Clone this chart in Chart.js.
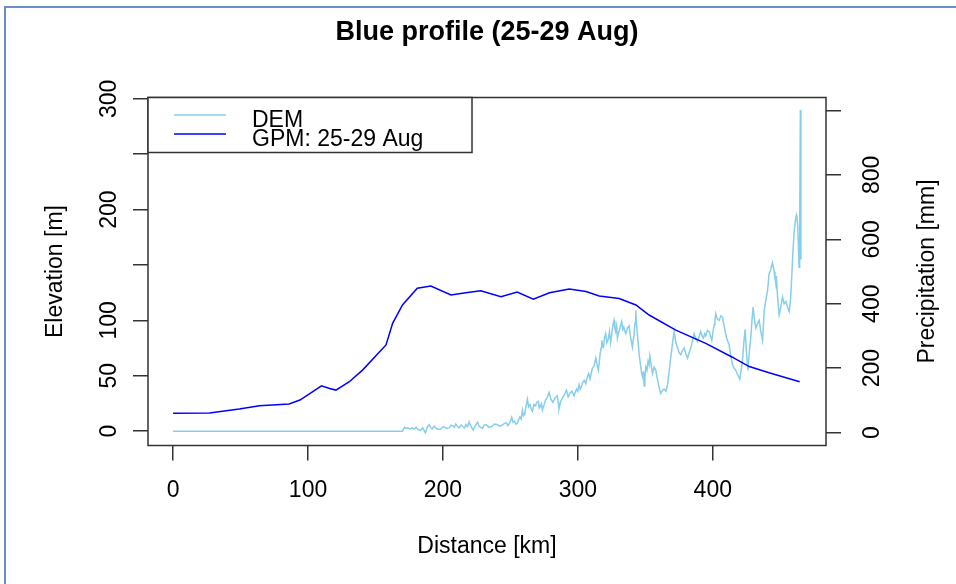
<!DOCTYPE html>
<html>
<head>
<meta charset="utf-8">
<title>Blue profile (25-29 Aug)</title>
<script src="https://cdn.jsdelivr.net/npm/chart.js@4/dist/chart.umd.min.js"></script>
<style>
  html, body { margin: 0; padding: 0; background: #fff; }
  #wrap { position: relative; width: 956px; height: 584px; }
  #frame {
    position: absolute; left: 4px; top: 6px; right: 0; bottom: 0;
    border-top: 2px solid #6d8fc9; border-left: 2px solid #6d8fc9;
    pointer-events: none;
  }
</style>
</head>
<body>
<div id="wrap">
  <canvas id="chart" width="956" height="584"></canvas>
  <div id="frame"></div>
</div>
<script>
// DEM elevation along the profile: [distance km, elevation m]
const demProfile = [
  [0, 0], [170, 0], [171.4, 3.5], [173, 2.5], [174, 3], [175.5, 2], [177, 3], [178.5, 2],
  [180, 3.5], [181.5, 1.5], [183.5, 1], [185, 3], [187, -1.5], [188.5, 4], [189.8, 6],
  [191, 3], [192, 2], [193.5, 4.5], [194.7, 3], [196, 2], [198, 1.5], [199.5, 3.5],
  [201, 4], [202.5, 2.5], [204.6, 3], [206, 5.5], [207, 5], [208.5, 3.5], [209.5, 6.5],
  [211, 4], [212, 3], [213.5, 5.5], [214.5, 4.5], [216, 3], [217, 6], [218.3, 4],
  [219.4, 8.5], [220.5, 5], [222.4, 1], [224, 5], [225.6, 8], [227, 4], [229.3, 2.5],
  [230.5, 5.5], [232, 6], [234, 3.5], [236.7, 4.5], [238, 6.5], [240, 6], [242, 4.5],
  [244, 5.5], [245.5, 7], [247, 7.5], [248, 5], [249, 6.5], [250, 9], [251, 12.5],
  [252, 8], [253, 9], [254, 6.5], [255.2, 7], [256, 10], [257, 13], [258, 11],
  [258.9, 19], [259.7, 14], [260.5, 15], [261.5, 22], [262.6, 29], [263.5, 22],
  [264.5, 24], [265.4, 20], [266.3, 18], [267.4, 24], [268.5, 23], [269.6, 26],
  [270.8, 27], [271.4, 21], [272, 22], [273, 25], [273.7, 19], [275, 24], [276, 28],
  [277.4, 31], [278.7, 35], [280, 29], [281.6, 26], [283, 30], [284.8, 32], [285.4, 26],
  [286, 20], [287.3, 27], [288.5, 30], [290, 33], [291.6, 37], [292.8, 31], [294, 34],
  [295.6, 36], [297.2, 32], [298, 35], [299, 38], [300, 36], [300.9, 42], [301.7, 38],
  [302.5, 40], [303.6, 44], [304.7, 46], [305.8, 43], [307, 49], [308, 52], [309, 47],
  [310, 53], [310.8, 57], [312, 59], [313.3, 66], [314.2, 60], [315.2, 55], [316, 64],
  [316.5, 70], [317.2, 75], [317.7, 82], [318.3, 77], [319, 76], [319.8, 85], [320.6, 88],
  [321.5, 80], [322.5, 83], [323.4, 90], [324.3, 80], [325, 86], [325.5, 92], [326.2, 97],
  [326.8, 100], [327.4, 93], [328, 90], [328.7, 95], [329.3, 84], [330.2, 89], [331, 92],
  [331.7, 96], [332.5, 99], [333.2, 92], [334, 94], [334.8, 90], [335.5, 88], [336.7, 93],
  [338, 95], [339, 85], [340.4, 76], [341.5, 86], [342.4, 98], [342.9, 109], [343.5, 96],
  [344.1, 88], [345.4, 70], [346.6, 58], [347.3, 52], [348, 49], [348.6, 54], [349.1, 41],
  [349.7, 50], [350.4, 58], [351.2, 55], [352, 63], [352.7, 60], [353.3, 68], [354.3, 60],
  [355.3, 52], [356.5, 58], [357.8, 55], [358.6, 49], [359.5, 44], [360.5, 38], [361.5, 34],
  [362.7, 37], [364, 38], [365.3, 36], [366.5, 42], [367.7, 55], [368.9, 67], [370.2, 80],
  [371.4, 90], [372.6, 80], [373.9, 75], [375, 71], [376.3, 69], [377.5, 73], [378.8, 75],
  [380, 70], [381.3, 66], [382.5, 71], [383.7, 75], [385, 82], [386.2, 88], [387.4, 84],
  [388.7, 81], [390, 86], [391.1, 90], [392, 86], [393, 84], [394, 88], [394.8, 86],
  [396, 91], [397.3, 90], [398.3, 86], [399.3, 82], [400.2, 90], [401, 96], [401.6, 100],
  [402.2, 106], [403.4, 101], [404.7, 100], [406, 104], [407.2, 103], [408.4, 95],
  [409.6, 87], [410.8, 82], [412.1, 78], [413.3, 68], [414.6, 60], [415.8, 57], [417, 55],
  [418.5, 51], [420, 47], [421, 55], [422, 64], [423, 80], [424, 92], [425, 70], [426, 55],
  [427.1, 72], [428.2, 85], [429, 100], [429.9, 112], [430.9, 100], [431.9, 93],
  [433.1, 97], [434.4, 100], [435.6, 90], [436.9, 82], [437.5, 95], [438.1, 109],
  [439.3, 118], [440.6, 127], [441.7, 142], [443, 146], [444.2, 152], [444.9, 148],
  [445.5, 144], [446.1, 138], [446.7, 133], [447.1, 140], [448.1, 120], [449.2, 105],
  [450.4, 112], [451.7, 121], [452.9, 115], [454.2, 117], [455.4, 112], [456.6, 108],
  [457.6, 118], [458.5, 139], [459.3, 160], [460.2, 178], [461, 188], [461.9, 195],
  [462.4, 192], [462.9, 185], [463.4, 170], [463.9, 148], [464.4, 186], [464.9, 290],
  [465.3, 155]
];

// GPM precipitation total along the profile: [distance km, precipitation mm]
const gpmProfile = [
  [0, 60], [27, 61], [49, 73], [64, 83], [86, 89], [94, 101], [110, 145], [116, 137],
  [120.7, 132], [130.6, 158], [140.4, 194], [157.8, 272], [162.7, 339], [170, 396],
  [181, 448], [191, 455], [206, 427], [217, 434], [228, 440], [243, 422], [255, 436],
  [267, 414], [279, 434], [293.6, 446], [306, 438], [315.8, 424], [330.6, 416], [343, 396],
  [352.8, 365], [372.6, 318], [394.8, 277], [414.5, 234], [427, 205], [441.7, 186],
  [464.4, 158]
];

// axis ticks and the labels printed next to them
const distTicks = [0, 100, 200, 300, 400];
const elevTicks = [0, 50, 100, 150, 200, 250, 300];
const elevLabels = [0, 50, 100, 200, 300];
const precTicks = [0, 200, 400, 600, 800, 1000];
const precLabels = [0, 200, 400, 600, 800];

const FONT = '"Liberation Sans", Arial, sans-serif';
const INK = '#333';

const toPoints = (pairs) => pairs.map(([x, y]) => ({ x, y }));
const fixTicks = (vals) => (s) => { s.ticks = vals.map(v => ({ value: v })); };

const tickGrid = {
  drawOnChartArea: false,
  drawTicks: true,
  tickLength: 15,
  color: INK,
  lineWidth: 1.5,
};

// base-graphics look: box, rotated y labels, legend in the top-left corner
const baseLook = {
  id: 'baseLook',
  afterDraw(chart) {
    const { ctx, chartArea: a, scales } = chart;
    const cx = (a.left + a.right) / 2;
    const cy = (a.top + a.bottom) / 2;
    ctx.save();

    ctx.strokeStyle = INK;
    ctx.lineWidth = 1.5;
    ctx.strokeRect(a.left, a.top, a.right - a.left, a.bottom - a.top);

    ctx.fillStyle = '#000';
    ctx.textAlign = 'center';
    ctx.textBaseline = 'alphabetic';

    ctx.font = 'bold 27px ' + FONT;
    ctx.fillText('Blue profile (25-29 Aug)', cx, 40);

    ctx.font = '23px ' + FONT;
    distTicks.forEach(v => ctx.fillText(String(v), scales.x.getPixelForValue(v), 497));
    ctx.fillText('Distance [km]', cx, 553);

    const vertical = (text, x, y) => {
      ctx.save();
      ctx.translate(x, y);
      ctx.rotate(-Math.PI / 2);
      ctx.fillText(text, 0, 0);
      ctx.restore();
    };
    elevLabels.forEach(v => vertical(String(v), 116, scales.yElev.getPixelForValue(v)));
    precLabels.forEach(v => vertical(String(v), 879, scales.yPrec.getPixelForValue(v)));
    vertical('Elevation [m]', 62, cy);
    vertical('Precipitation [mm]', 934, cy);

    // legend
    const lx = a.left, ly = a.top, lw = 324, lh = 55;
    ctx.fillStyle = '#fff';
    ctx.fillRect(lx, ly, lw, lh);
    ctx.strokeStyle = INK;
    ctx.strokeRect(lx, ly, lw, lh);
    const entries = chart.data.datasets.slice().sort((p, q) => q.order - p.order);
    entries.forEach((ds, i) => {
      const y = ly + 17.5 + i * 19;
      ctx.strokeStyle = ds.borderColor;
      ctx.lineWidth = 1.5;
      ctx.beginPath();
      ctx.moveTo(lx + 26, y);
      ctx.lineTo(lx + 78, y);
      ctx.stroke();
      ctx.fillStyle = '#000';
      ctx.textAlign = 'left';
      ctx.fillText(ds.label, lx + 104, y + 11.5);
    });

    ctx.restore();
  }
};

new Chart(document.getElementById('chart'), {
  type: 'line',
  data: {
    datasets: [
      {
        label: 'GPM: 25-29 Aug',
        data: toPoints(gpmProfile),
        yAxisID: 'yPrec',
        borderColor: '#0000ff',
        borderWidth: 1.5,
        pointRadius: 0,
        tension: 0,
        order: 0,
      },
      {
        label: 'DEM',
        data: toPoints(demProfile),
        yAxisID: 'yElev',
        borderColor: '#87ceeb',
        borderWidth: 1.5,
        pointRadius: 0,
        tension: 0,
        order: 1,
      },
    ],
  },
  options: {
    responsive: false,
    animation: false,
    events: [],
    layout: { padding: { top: 97.5, left: 0, right: 0, bottom: 0 } },
    plugins: {
      legend: { display: false },
      title: { display: false },
      tooltip: { enabled: false },
    },
    scales: {
      x: {
        type: 'linear',
        position: 'bottom',
        min: -18.6,
        max: 483.9,
        afterBuildTicks: fixTicks(distTicks),
        afterFit: (s) => { s.height = 138.5; },
        ticks: { display: false },
        grid: tickGrid,
        border: { display: false },
      },
      yElev: {
        type: 'linear',
        position: 'left',
        min: -12.9,
        max: 301.2,
        afterBuildTicks: fixTicks(elevTicks),
        afterFit: (s) => { s.width = 148; },
        ticks: { display: false },
        grid: tickGrid,
        border: { display: false },
      },
      yPrec: {
        type: 'linear',
        position: 'right',
        min: -40,
        max: 1040,
        afterBuildTicks: fixTicks(precTicks),
        afterFit: (s) => { s.width = 130; },
        ticks: { display: false },
        grid: tickGrid,
        border: { display: false },
      },
    },
  },
  plugins: [baseLook],
});
</script>
</body>
</html>
